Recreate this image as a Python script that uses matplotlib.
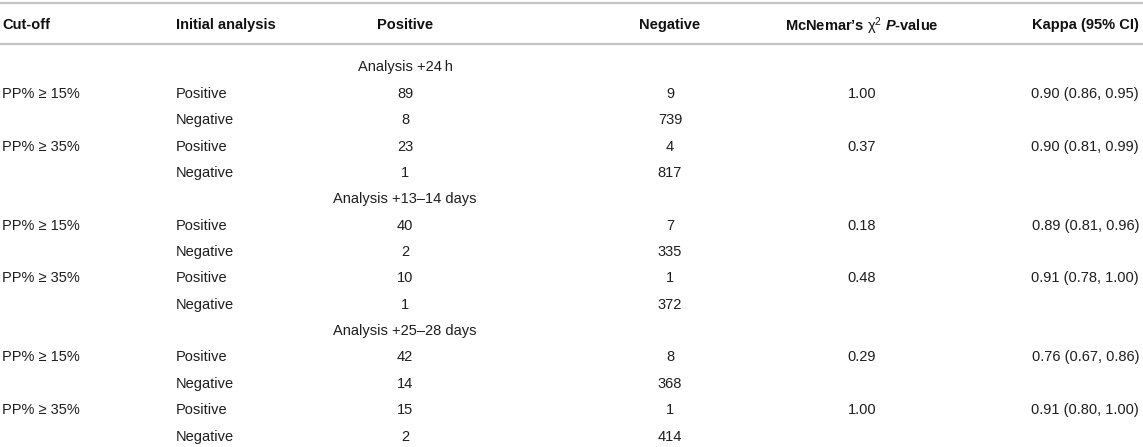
import matplotlib
matplotlib.use('Agg')
import matplotlib.pyplot as plt

# ---- data ----
columns = ["Cut-off", "Initial analysis", "Positive", "Negative",
           r"McNemar’s $\mathrm{\chi}^{\mathrm{2}}$ $\mathbfit{P}$-value", "Kappa (95% CI)"]
groups = ["Analysis +24\u2009h", "Analysis +13–14 days", "Analysis +25–28 days"]
cutoffs = ["PP% ≥ 15%", "PP% ≥ 35%"]
initial = ["Positive", "Negative"]
positive = [[89, 8], [23, 1], [40, 2], [10, 1], [42, 14], [15, 2]]
negative = [[9, 739], [4, 817], [7, 335], [1, 372], [8, 368], [1, 414]]
pvalues = ["1.00", "0.37", "0.18", "0.48", "0.29", "1.00"]
kappas = ["0.90 (0.86, 0.95)", "0.90 (0.81, 0.99)",
          "0.89 (0.81, 0.96)", "0.91 (0.78, 1.00)",
          "0.76 (0.67, 0.86)", "0.91 (0.80, 1.00)"]

plt.rcParams['font.family'] = ['Liberation Sans', 'DejaVu Sans']
plt.rcParams['mathtext.fontset'] = 'custom'
plt.rcParams['mathtext.rm'] = 'Liberation Sans'
plt.rcParams['mathtext.it'] = 'Liberation Sans:italic'
plt.rcParams['mathtext.bf'] = 'Liberation Sans:bold'
plt.rcParams['mathtext.bfit'] = 'Liberation Sans:bold:italic'

W, H = 1143, 447
fig = plt.figure(figsize=(W / 100, H / 100), dpi=100)
ax = fig.add_axes([0, 0, 1, 1])
ax.set_xlim(0, W)
ax.set_ylim(H, 0)
ax.axis('off')

fs = 10.5
txt = '#1e1e1e'
line_c = '#c4c4c4'
va = 'center_baseline'

# column anchors
col_x = [2, 176, 405, 670, 862, 1139]
col_ha = ['left', 'left', 'center', 'center', 'center', 'right']

# rules
ax.plot([0, W], [2.5, 2.5], color=line_c, lw=1.6, solid_capstyle='butt')
ax.plot([0, W], [43.5, 43.5], color=line_c, lw=1.6, solid_capstyle='butt')

# header
for x, ha, c in zip(col_x, col_ha, columns):
    ax.text(x, 23.5, c, ha=ha, va=va, fontsize=fs, fontweight='bold', color='#111111')

y0 = 66
pitch = 26.36
row = 0
for g, gname in enumerate(groups):
    ax.text(col_x[2], y0 + row * pitch, gname, ha='center', va=va, fontsize=fs, color=txt)
    row += 1
    for c, cname in enumerate(cutoffs):
        k = g * 2 + c
        for r, iname in enumerate(initial):
            y = y0 + row * pitch
            if r == 0:
                ax.text(col_x[0], y, cname, ha='left', va=va, fontsize=fs, color=txt)
                ax.text(col_x[4], y, pvalues[k], ha='center', va=va, fontsize=fs, color=txt)
                ax.text(col_x[5], y, kappas[k], ha='right', va=va, fontsize=fs, color=txt)
            ax.text(col_x[1], y, iname, ha='left', va=va, fontsize=fs, color=txt)
            ax.text(col_x[2], y, str(positive[k][r]), ha='center', va=va, fontsize=fs, color=txt)
            ax.text(col_x[3], y, str(negative[k][r]), ha='center', va=va, fontsize=fs, color=txt)
            row += 1

fig.savefig('out.png', dpi=100)
